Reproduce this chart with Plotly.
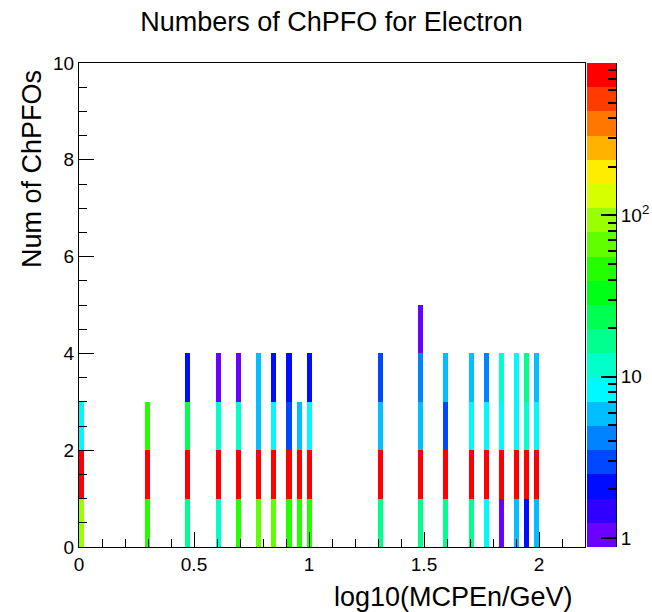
import colorsys
import numpy as np
import plotly.graph_objects as go

# ---- data ----
energies_gev = [1, 2, 3, 4, 5, 6, 7, 8, 9, 10, 20, 30, 40, 50, 60, 70, 80, 90, 100]
n_chpfo_0 = [95, 48, 18, 13, 48, 65, 70, 46, 47, 44, 18, 19, 17, 16, 9, 1, 6, 2, 6]
n_chpfo_1 = [790, 800, 845, 865, 830, 820, 815, 840, 850, 840, 865, 860, 865, 860, 870, 870, 870, 860, 880]
n_chpfo_2 = [9, 45, 27, 12, 13, 6, 8, 3, 6, 9, 6, 6, 3, 9, 9, 9, 8, 13, 9]
n_chpfo_3 = [0, 0, 2, 1, 1, 6, 2, 2, 0, 2, 3, 4, 6, 6, 4, 12, 9, 18, 6]
n_chpfo_4 = [0, 0, 0, 0, 0, 0, 0, 0, 0, 0, 0, 1, 0, 0, 0, 0, 0, 0, 0]
n_chpfo_values = [0, 1, 2, 3, 4]

x_tick_vals = [0, 0.5, 1, 1.5, 2]
x_tick_text = ["0", "0.5", "1", "1.5", "2"]
y_tick_vals = [0, 2, 4, 6, 8, 10]
cbar_tick_vals = [1, 10, 100]
cbar_tick_text = ["1", "10", "10<sup>2</sup>"]

# ---- histogram (100 x 10 bins as in the ROOT TH2) ----
x_edges = np.linspace(0.0, 2.2, 101)
y_edges = np.linspace(0.0, 10.0, 11)
counts_by_n = [n_chpfo_0, n_chpfo_1, n_chpfo_2, n_chpfo_3, n_chpfo_4]
xs, ys, ws = [], [], []
for nval, row in zip(n_chpfo_values, counts_by_n):
    for e, c in zip(energies_gev, row):
        if c > 0:
            xs.append(np.log10(e))
            ys.append(nval + 0.5)
            ws.append(c)
H, _, _ = np.histogram2d(xs, ys, bins=[x_edges, y_edges], weights=ws)
Z = H.T.copy()
Z[Z <= 0] = np.nan
Zlog = np.log10(Z)

zmax = float(np.nanmax(Z))
zmin = min(1.0, 0.001 * zmax)
zmax_log = float(np.log10(zmax))
zmin_log = float(np.log10(zmin))

# ---- ROOT-like 20-level rainbow palette ----
NLEV = 20
pal = []
for k in range(NLEV):
    h = 265.0 * (1 - k / (NLEV - 1))
    r, g, b = colorsys.hls_to_rgb(h / 360.0, 0.5, 1.0)
    pal.append("rgb(%d,%d,%d)" % (round(r * 255), round(g * 255), round(b * 255)))
cscale = []
for k, c in enumerate(pal):
    cscale.append([k / NLEV, c])
    cscale.append([(k + 1) / NLEV, c])

FONT = "Liberation Sans"
L_PX, R_PX, T_PX, B_PX = 79, 616, 63, 547
PW = float(R_PX - L_PX)
PH = float(B_PX - T_PX)
MAIN_R = 585
CB_L = 587

# palette bar as its own small heatmap on a log axis
band_edges_log = np.linspace(zmin_log, zmax_log, NLEV + 1)
band_centers = 0.5 * (band_edges_log[:-1] + band_edges_log[1:])
band_edges = 10 ** band_edges_log

minor_vals = [m * d for d in (1, 10, 100) for m in range(2, 10) if zmin <= m * d <= zmax]

fig = go.Figure()
fig.add_trace(go.Heatmap(
    z=Zlog, x=x_edges, y=y_edges,
    zmin=zmin_log, zmax=zmax_log,
    colorscale=cscale, zsmooth=False, hoverongaps=False, showscale=False,
    xaxis="x", yaxis="y",
))
fig.add_trace(go.Heatmap(
    z=band_centers.reshape(-1, 1), x=[0.0, 1.0], y=band_edges,
    zmin=zmin_log, zmax=zmax_log,
    colorscale=cscale, zsmooth=False, showscale=False, hoverinfo="skip",
    xaxis="x2", yaxis="y2",
))

fig.update_layout(
    width=652, height=612, autosize=False, showlegend=False,
    margin=dict(l=L_PX, r=652 - R_PX, t=T_PX, b=612 - B_PX, autoexpand=False),
    paper_bgcolor="white", plot_bgcolor="white",
    font=dict(family=FONT, color="black"),
    title=dict(text="Numbers of ChPFO for Electron", x=331.5 / 652, xanchor="center",
               y=1 - 22 / 612, yanchor="middle", yref="container",
               font=dict(family=FONT, size=27, color="black")),
    xaxis=dict(domain=[0, (MAIN_R - L_PX) / PW], range=[0, 2.2], showgrid=False, zeroline=False,
               showline=True, linecolor="black", linewidth=1, mirror=True,
               ticks="inside", ticklen=15, tickcolor="black",
               tickmode="array", tickvals=x_tick_vals, ticktext=x_tick_text,
               tickfont=dict(family=FONT, size=19, color="black"),
               minor=dict(dtick=0.1, tick0=0, ticks="inside", ticklen=8, tickcolor="black")),
    yaxis=dict(range=[0, 10], showgrid=False, zeroline=False, showline=True, linecolor="black",
               linewidth=1, mirror=True, ticks="inside", ticklen=15, tickcolor="black",
               tickmode="array", tickvals=y_tick_vals,
               tickfont=dict(family=FONT, size=19, color="black"),
               minor=dict(dtick=0.5, tick0=0, ticks="inside", ticklen=8, tickcolor="black")),
    xaxis2=dict(domain=[(CB_L - L_PX) / PW, 1], range=[0, 1], showgrid=False, zeroline=False,
                showline=False, showticklabels=False, ticks="", anchor="y2", fixedrange=True),
    yaxis2=dict(type="log", range=[zmin_log, zmax_log], anchor="x2", side="right",
                showgrid=False, zeroline=False, showline=True, linecolor="black", linewidth=1,
                ticks="inside", ticklen=15, tickcolor="black", tickwidth=1.5,
                tickmode="array", tickvals=cbar_tick_vals, ticktext=cbar_tick_text,
                tickfont=dict(family=FONT, size=19, color="black"),
                minor=dict(tickmode="array", tickvals=minor_vals, ticks="inside", ticklen=8,
                           tickcolor="black", tickwidth=1.5, showgrid=False)),
    annotations=[
        dict(text="log10(MCPEn/GeV)", xref="paper", yref="paper", x=(575 - L_PX) / PW, xanchor="right",
             y=-(597 - B_PX) / PH, yanchor="middle", showarrow=False,
             font=dict(family=FONT, size=27, color="black")),
        dict(text="Num of ChPFOs", xref="paper", yref="paper", x=(32 - L_PX) / PW, xanchor="center",
             y=(B_PX - 68) / PH, yanchor="top", textangle=-90, showarrow=False,
             font=dict(family=FONT, size=27, color="black")),
    ],
)

fig.write_html("out.html")
